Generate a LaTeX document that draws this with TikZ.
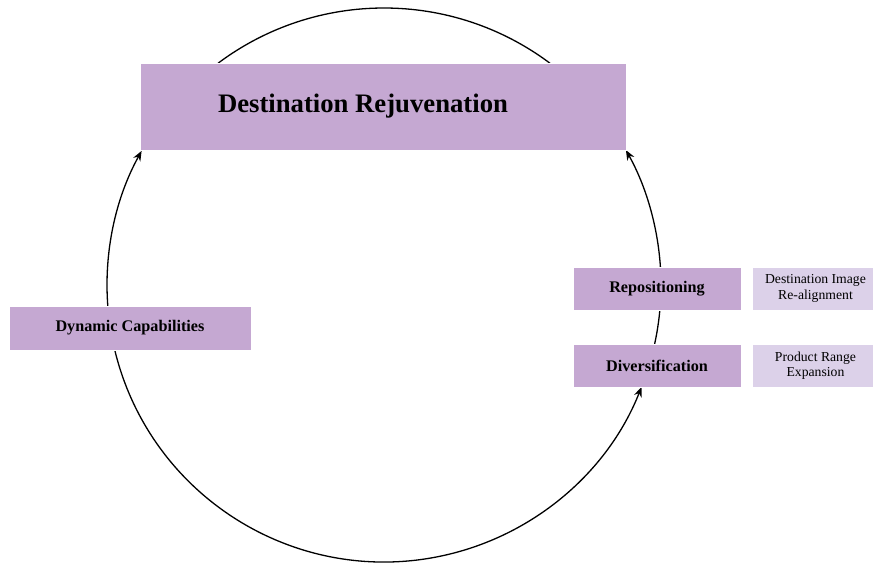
\documentclass[tikz,border=0pt]{standalone}
\usepackage{fontspec}
\setmainfont{Liberation Serif}
\usetikzlibrary{arrows.meta}
\definecolor{mainpurple}{HTML}{C5A8D2}
\definecolor{lightpurple}{HTML}{DCD1E9}
\tikzset{
  mainbox/.style={fill=mainpurple, draw=white, line width=0.6pt, inner sep=0pt, font=\bfseries\fontsize{16.2}{18}\selectfont, align=center},
  sidebox/.style={fill=lightpurple, draw=white, line width=0.6pt, inner sep=0pt, font=\fontsize{13.7}{15.5}\selectfont, align=center},
  cycle/.style={line width=1.3pt, black},
  tip/.style={-{Stealth[length=10pt,width=8pt]}}
}
\begin{document}
\begin{tikzpicture}[x=1pt,y=1pt]
\useasboundingbox (0,0) rectangle (874,567);
\coordinate (o) at (384,282);
% circle arcs
\draw[cycle] ([shift={(126.8:277)}]o) arc[start angle=126.8, end angle=53.2, radius=277];
\draw[cycle,tip] ([shift={(184.35:277)}]o) arc[start angle=184.35, end angle=151.05, radius=277];
\draw[cycle,tip] ([shift={(3.73:277)}]o) arc[start angle=3.73, end angle=29.15, radius=277];
\draw[cycle] ([shift={(-12.3:277)}]o) arc[start angle=-12.3, end angle=-5.18, radius=277];
\draw[cycle,tip] ([shift={(193.58:277)}]o) arc[start angle=193.58, end angle=338.4, radius=277];
% nodes
\node[mainbox, minimum width=486, minimum height=87, font=\bfseries\fontsize{26.7}{30}\selectfont] (dr) at (383,460.5) {Destination Rejuvenation\hspace*{40pt}};
\node[mainbox, minimum width=242, minimum height=44] (dc) at (130,239) {Dynamic Capabilities};
\node[mainbox, minimum width=168, minimum height=43] (rp) at (657,278.5) {Repositioning};
\node[mainbox, minimum width=168, minimum height=43] (dv) at (657,201.5) {Diversification};
\node[sidebox, minimum width=121, minimum height=43] (ri) at (812.5,278.5) {\hspace*{6pt}Destination Image\\\hspace*{6pt}Re-alignment};
\node[sidebox, minimum width=121, minimum height=43] (pr) at (812.5,201.5) {\hspace*{6pt}Product Range\\\hspace*{6pt}Expansion};
\end{tikzpicture}
\end{document}
